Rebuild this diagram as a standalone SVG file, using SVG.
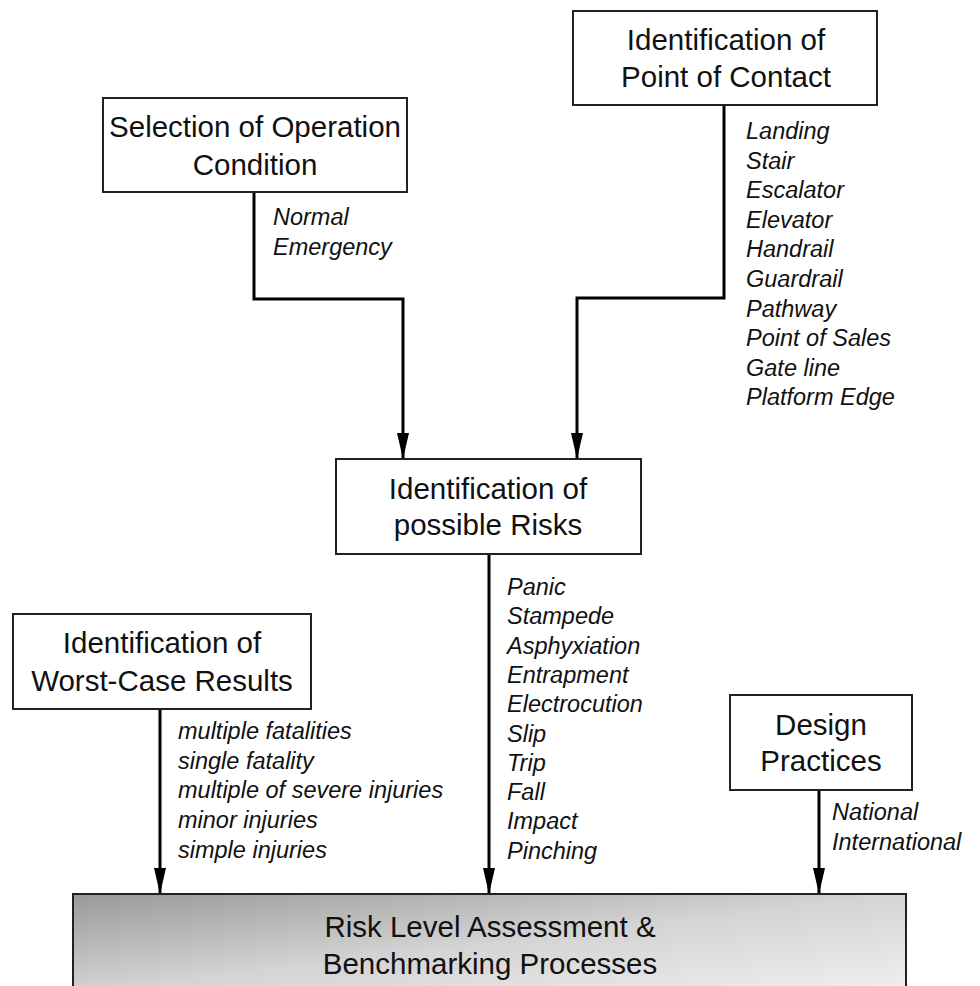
<svg xmlns="http://www.w3.org/2000/svg" width="980" height="986" viewBox="0 0 980 986">
<defs>
<style>
.box{fill:#fff;stroke:#222;stroke-width:2}
.title{font-family:"Liberation Sans",Arial,sans-serif;font-size:29.5px;fill:#111;text-anchor:middle}
.lbl{font-family:"Liberation Sans",Arial,sans-serif;font-size:23.5px;font-style:italic;fill:#111}
.con{fill:none;stroke:#000;stroke-width:3}
</style>
<marker id="arr" markerUnits="userSpaceOnUse" markerWidth="26" markerHeight="14" refX="26" refY="7" orient="auto">
<path d="M0,1 L26,7 L0,13 z" fill="#000"/>
</marker>
<linearGradient id="grad" x1="0" y1="0" x2="1" y2="1">
<stop offset="0" stop-color="#999"/>
<stop offset="0.5" stop-color="#d4d4d4"/>
<stop offset="1" stop-color="#f0f0f0"/>
</linearGradient>
</defs>
<rect width="980" height="986" fill="#fff"/>

<g id="connectors">
<path class="con" d="M254,192 V299 H403 V459" marker-end="url(#arr)"/>
<path class="con" d="M724,105 V298 H577 V459" marker-end="url(#arr)"/>
<path class="con" d="M160,709 V894" marker-end="url(#arr)"/>
<path class="con" d="M489,554 V894" marker-end="url(#arr)"/>
<path class="con" d="M819,790 V894" marker-end="url(#arr)"/>
</g>

<g id="selection">
<rect class="box" x="103" y="98" width="304" height="94"/>
<text class="title" x="255" y="137">Selection of Operation</text>
<text class="title" x="255" y="175">Condition</text>
</g>
<g id="selection-labels">
<text class="lbl" x="273" y="225">Normal</text>
<text class="lbl" x="273" y="255">Emergency</text>
</g>

<g id="contact">
<rect class="box" x="573" y="11" width="304" height="94"/>
<text class="title" x="726" y="50">Identification of</text>
<text class="title" x="726" y="87">Point of Contact</text>
</g>
<g id="contact-labels">
<text class="lbl" x="746" y="139">Landing</text>
<text class="lbl" x="746" y="168.6">Stair</text>
<text class="lbl" x="746" y="198.2">Escalator</text>
<text class="lbl" x="746" y="227.8">Elevator</text>
<text class="lbl" x="746" y="257.4">Handrail</text>
<text class="lbl" x="746" y="287">Guardrail</text>
<text class="lbl" x="746" y="316.6">Pathway</text>
<text class="lbl" x="746" y="346.2">Point of Sales</text>
<text class="lbl" x="746" y="375.8">Gate line</text>
<text class="lbl" x="746" y="405.4">Platform Edge</text>
</g>

<g id="risks">
<rect class="box" x="336" y="459" width="305" height="95"/>
<text class="title" x="488" y="499">Identification of</text>
<text class="title" x="488" y="535">possible Risks</text>
</g>
<g id="risk-labels">
<text class="lbl" x="507" y="595">Panic</text>
<text class="lbl" x="507" y="624.3">Stampede</text>
<text class="lbl" x="507" y="653.6">Asphyxiation</text>
<text class="lbl" x="507" y="682.9">Entrapment</text>
<text class="lbl" x="507" y="712.2">Electrocution</text>
<text class="lbl" x="507" y="741.5">Slip</text>
<text class="lbl" x="507" y="770.8">Trip</text>
<text class="lbl" x="507" y="800.1">Fall</text>
<text class="lbl" x="507" y="829.4">Impact</text>
<text class="lbl" x="507" y="858.7">Pinching</text>
</g>

<g id="worstcase">
<rect class="box" x="13" y="614" width="298" height="95"/>
<text class="title" x="162" y="653">Identification of</text>
<text class="title" x="162" y="691">Worst-Case Results</text>
</g>
<g id="worstcase-labels">
<text class="lbl" x="178" y="739">multiple fatalities</text>
<text class="lbl" x="178" y="768.7">single fatality</text>
<text class="lbl" x="178" y="798.4">multiple of severe injuries</text>
<text class="lbl" x="178" y="828.1">minor injuries</text>
<text class="lbl" x="178" y="857.8">simple injuries</text>
</g>

<g id="design">
<rect class="box" x="730" y="695" width="182" height="95"/>
<text class="title" x="821" y="735">Design</text>
<text class="title" x="821" y="771">Practices</text>
</g>
<g id="design-labels">
<text class="lbl" x="832" y="820">National</text>
<text class="lbl" x="832" y="850">International</text>
</g>

<g id="assessment">
<rect x="73" y="894" width="833" height="100" fill="url(#grad)" stroke="#222" stroke-width="2"/>
<text class="title" x="490" y="937">Risk Level Assessment &amp;</text>
<text class="title" x="490" y="974">Benchmarking Processes</text>
</g>
</svg>
